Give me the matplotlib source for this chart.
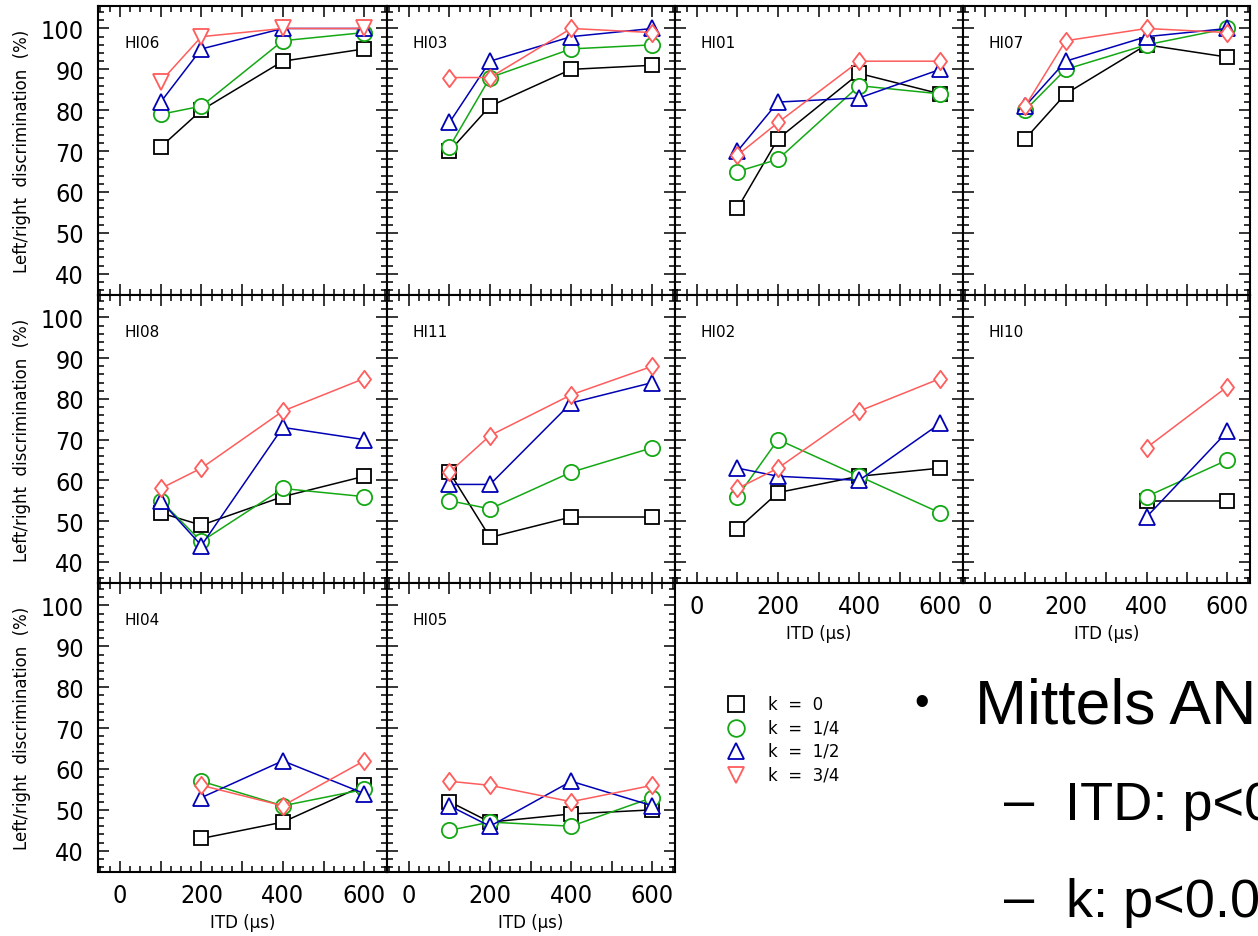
import numpy as np
import matplotlib
matplotlib.use("Agg")
import matplotlib.pyplot as plt
from matplotlib import font_manager
from matplotlib.lines import Line2D
from matplotlib.path import Path
from matplotlib.ticker import MultipleLocator, FuncFormatter

nan = np.nan

# ITD in microseconds
itd = [100, 200, 400, 600]

subjects = ["HI06", "HI03", "HI01", "HI07",
            "HI08", "HI11", "HI02", "HI10",
            "HI04", "HI05"]

k_labels = ["k  =  0", "k  =  1/4", "k  =  1/2", "k  =  3/4"]

# percent correct left/right, one row per subject (same order as subjects)
pct_k0 = [
    [71, 80, 92, 95],
    [70, 81, 90, 91],
    [56, 73, 89, 84],
    [73, 84, 96, 93],
    [52, 49, 56, 61],
    [62, 46, 51, 51],
    [48, 57, 61, 63],
    [nan, nan, 55, 55],
    [nan, 43, 47, 56],
    [52, 47, 49, 50],
]
pct_k14 = [
    [79, 81, 97, 99],
    [71, 88, 95, 96],
    [65, 68, 86, 84],
    [80, 90, 96, 100],
    [55, 45, 58, 56],
    [55, 53, 62, 68],
    [56, 70, 61, 52],
    [nan, nan, 56, 65],
    [nan, 57, 51, 55],
    [45, 47, 46, 53],
]
pct_k12 = [
    [82, 95, 100, 100],
    [77, 92, 98, 100],
    [70, 82, 83, 90],
    [81, 92, 98, 100],
    [55, 44, 73, 70],
    [59, 59, 79, 84],
    [63, 61, 60, 74],
    [nan, nan, 51, 72],
    [nan, 53, 62, 54],
    [51, 46, 57, 51],
]
pct_k34 = [
    [87, 98, 100, 100],
    [88, 88, 100, 99],
    [69, 77, 92, 92],
    [81, 97, 100, 99],
    [58, 63, 77, 85],
    [62, 71, 81, 88],
    [58, 63, 77, 85],
    [nan, nan, 68, 83],
    [nan, 56, 51, 62],
    [57, 56, 52, 56],
]

# fonts: narrow digits for the tick labels if a condensed face exists
fonts = font_manager.fontManager.ttflist
names = {f.name for f in fonts}
if "Liberation Sans Narrow" in names:
    plt.rcParams["font.family"] = "Liberation Sans Narrow"
    tick_size = 19
elif any(f.name == "DejaVu Sans" and f.stretch == "condensed" for f in fonts):
    plt.rcParams["font.family"] = "DejaVu Sans"
    plt.rcParams["font.stretch"] = "condensed"
    tick_size = 18
else:
    plt.rcParams["font.family"] = "DejaVu Sans"
    tick_size = 17
plain = dict(family="DejaVu Sans", fontstretch="normal")
slide = dict(family="Liberation Sans", fontstretch="normal")

col_black = "black"
col_green = "#14a814"
col_blue = "#0000b4"
col_red = "#ff5c5c"

diamond = Path([(0, 1), (0.75, 0), (0, -1), (-0.75, 0), (0, 1)], closed=True)

W, H = 1258, 937
fig = plt.figure(figsize=(W / 100, H / 100), dpi=100)

col_edges = [98, 387, 675, 963, 1250]
row_edges = [7, 296, 584, 873]
bottom_panels = ["HI02", "HI10", "HI04", "HI05"]

for i, name in enumerate(subjects):
    r, c = divmod(i, 4)
    x0, x1 = col_edges[c], col_edges[c + 1]
    y0, y1 = row_edges[r], row_edges[r + 1]
    ax = fig.add_axes([x0 / W, 1 - y1 / H, (x1 - x0) / W, (y1 - y0) / H])

    red_marker = "v" if name == "HI06" else diamond
    red_size = 12 if name == "HI06" else 12.5
    series = [
        (pct_k0[i], col_black, "s", 10.5),
        (pct_k14[i], col_green, "o", 11),
        (pct_k12[i], col_blue, "^", 11),
        (pct_k34[i], col_red, red_marker, red_size),
    ]
    for vals, col, mk, ms in series:
        ax.plot(itd, vals, color=col, lw=1.1, marker=mk, ms=ms,
                mfc="white", mec=col, mew=1.3)

    ax.set_xlim(-54, 656)
    ax.set_ylim(34.8, 105.5)
    ax.xaxis.set_major_locator(MultipleLocator(100))
    ax.xaxis.set_minor_locator(MultipleLocator(25))
    ax.xaxis.set_major_formatter(FuncFormatter(
        lambda v, p: f"{v:.0f}" if round(v) % 200 == 0 else ""))
    ax.yaxis.set_major_locator(MultipleLocator(10))
    ax.yaxis.set_minor_locator(MultipleLocator(2))
    ax.tick_params(which="both", direction="in", top=True, right=True,
                   width=1.1, labelsize=tick_size)
    ax.tick_params(which="major", length=8)
    ax.tick_params(which="minor", length=4.5)
    ax.tick_params(axis="y", pad=10, labelleft=(c == 0))
    ax.tick_params(axis="x", pad=8, labelbottom=(name in bottom_panels))
    for sp in ax.spines.values():
        sp.set_linewidth(1.5)

    if name in bottom_panels:
        ax.set_xlabel("ITD (μs)", fontsize=12, labelpad=4, **plain)

    ax.text(0.09, 0.872, name, transform=ax.transAxes, fontsize=11,
            ha="left", va="center", **plain)

# row labels
for r in range(3):
    yc = (row_edges[r] + row_edges[r + 1]) / 2
    fig.text(22 / W, 1 - yc / H, "Left/right  discrimination  (%)",
             fontsize=12, rotation=90, ha="center", va="center", **plain)

# key for the four k values
key_markers = [("s", col_black, 11), ("o", col_green, 12),
               ("^", col_blue, 11), ("v", col_red, 12)]
for j, ((mk, col, ms), lab) in enumerate(zip(key_markers, k_labels)):
    yk = 1 - (705 + 23.5 * j) / H
    fig.add_artist(Line2D([736 / W], [yk], transform=fig.transFigure,
                          marker=mk, ms=ms, mfc="white", mec=col, mew=1.3,
                          ls="none"))
    fig.text(768 / W, yk, lab, fontsize=12, ha="left", va="center", **plain)

# statistics notes on the right
fig.text(922 / W, 1 - 715 / H, "•", fontsize=30,
         ha="center", va="baseline", **slide)
fig.text(975 / W, 1 - 723 / H, "Mittels AN", fontsize=45,
         ha="left", va="baseline", **slide)
fig.text(1004 / W, 1 - 818 / H, "–", fontsize=39,
         ha="left", va="baseline", **slide)
fig.text(1065 / W, 1 - 820 / H, "ITD: p<0", fontsize=39,
         ha="left", va="baseline", **slide)
fig.text(1004 / W, 1 - 915 / H, "–", fontsize=39,
         ha="left", va="baseline", **slide)
fig.text(1066 / W, 1 - 917 / H, "k: p<0.0", fontsize=39,
         ha="left", va="baseline", **slide)

fig.savefig("out.png", dpi=100)
